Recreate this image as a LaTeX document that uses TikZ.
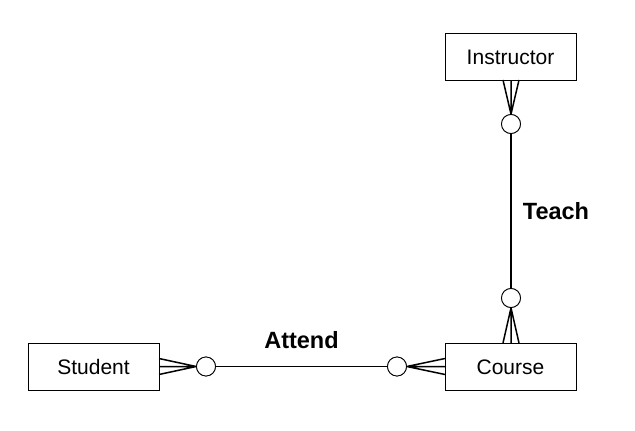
\documentclass[tikz,border=0pt]{standalone}
\usepackage{fontspec}
\setmainfont{Liberation Sans}
\begin{document}
\begin{tikzpicture}[x=1pt,y=-1pt,
  entity/.style={draw, line width=1pt, minimum width=131pt, minimum height=47pt, inner sep=0pt, text depth=0pt, text height=15pt, font=\fontsize{21}{24}\selectfont},
  ring/.style={draw, line width=0.8pt, circle, minimum size=19pt, inner sep=0pt, fill=white},
  rel/.style={line width=1.7pt},
  foot/.style={line width=1.5pt},
  lbl/.style={font=\bfseries\fontsize{23.5}{26}\selectfont}]
\useasboundingbox (0,0) rectangle (635,431);
\node[entity] (instr) at (510.5,56.5) {Instructor};
\node[entity] (course) at (510.5,366.5) {Course};
\node[entity] (student) at (93.5,367) {Student};
\node[ring] (ci) at (511,124) {};
\node[ring] (cc) at (511,298) {};
\node[ring] (cs) at (206,366.5) {};
\node[ring] (cl) at (397,366.5) {};
% crow's feet
\coordinate (i1) at (503,80); \coordinate (i2) at (511,80); \coordinate (i3) at (519,80);
\draw[foot] (i1) -- (ci.north) (i2) -- (ci.north) (i3) -- (ci.north);
\coordinate (c1) at (503,343); \coordinate (c2) at (511,343); \coordinate (c3) at (519,343);
\draw[foot] (c1) -- (cc.south) (c2) -- (cc.south) (c3) -- (cc.south);
\coordinate (s1) at (159,358.5); \coordinate (s2) at (159,366.5); \coordinate (s3) at (159,374.5);
\draw[foot] (s1) -- (cs.west) (s2) -- (cs.west) (s3) -- (cs.west);
\coordinate (l1) at (445,358.5); \coordinate (l2) at (445,366.5); \coordinate (l3) at (445,374.5);
\draw[foot] (l1) -- (cl.east) (l2) -- (cl.east) (l3) -- (cl.east);
% relationship lines
\draw[rel] (ci.south) -- (cc.north);
\draw[rel] (cs.east) -- (cl.west);
\node[ring] at (ci) {};
\node[ring] at (cc) {};
\node[ring] at (cs) {};
\node[ring] at (cl) {};
\node[lbl] (teach) at (556,211) {Teach};
\node[lbl] (attend) at (301.5,340) {Attend};
\end{tikzpicture}
\end{document}
